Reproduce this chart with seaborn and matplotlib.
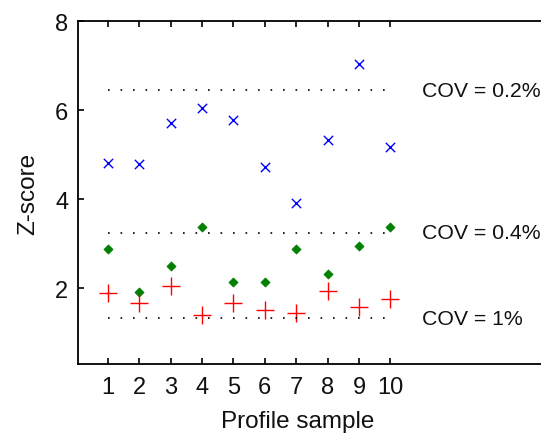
import matplotlib
matplotlib.use("Agg")
import matplotlib.pyplot as plt
import seaborn as sns
import pandas as pd

samples = [1, 2, 3, 4, 5, 6, 7, 8, 9, 10]
cov_02 = [4.82, 4.79, 5.72, 6.04, 5.78, 4.73, 3.91, 5.32, 7.03, 5.18]
cov_04 = [2.89, 1.92, 2.49, 3.38, 2.13, 2.13, 2.89, 2.31, 2.94, 3.38]
cov_1 = [1.89, 1.66, 2.04, 1.39, 1.66, 1.51, 1.45, 1.93, 1.59, 1.77]
thresholds = [6.45, 3.25, 1.33]
threshold_labels = ["COV = 0.2%", "COV = 0.4%", "COV = 1%"]
yticks = [2, 4, 6, 8]

sns.set_theme(style="ticks")
plt.rcParams["font.family"] = ["Liberation Sans", "DejaVu Sans"]

fig = plt.figure(figsize=(5.41, 4.35), dpi=100)
ax = fig.add_axes([78 / 541, 70 / 435, 485 / 541, 343 / 435])

df = pd.DataFrame({"sample": samples, "c02": cov_02, "c04": cov_04, "c1": cov_1})

sns.scatterplot(data=df, x="sample", y="c02", marker="x", color="#0000ff",
                s=45, linewidth=1.0, ax=ax)
sns.scatterplot(data=df, x="sample", y="c04", marker="D", color="#008000",
                edgecolor="#008000", s=22, linewidth=0.5, ax=ax)
sns.scatterplot(data=df, x="sample", y="c1", marker="+", color="#ff0000",
                s=170, linewidth=1.0, ax=ax)

for t, lab in zip(thresholds, threshold_labels):
    ax.hlines(t, samples[0], samples[-1], colors="black",
              linestyles=(0, (1, 6.5)), linewidth=1.2)
    ax.text(11, t, lab, ha="left", va="center", fontsize=15.3, color="#111111")

ax.set_xlim(0.05, 15.5)
ax.set_ylim(0.3, 8)
ax.set_xticks(samples)
ax.set_xticklabels([str(s) for s in samples])
ax.set_yticks(yticks)
ax.set_yticklabels([str(v) for v in yticks])

ax.tick_params(direction="in", length=4, width=1.2, colors="black",
               labelcolor="#111111", labelsize=17, top=True, right=False)
ax.tick_params(axis="x", pad=9)
ax.tick_params(axis="y", pad=7)
for sp in ax.spines.values():
    sp.set_linewidth(1.3)
    sp.set_color("black")
    sp.set_visible(True)

ax.set_xlabel("Profile sample", fontsize=17.5, color="#111111")
ax.set_ylabel("Z-score", fontsize=17.5, color="#111111")
ax.xaxis.set_label_coords((298 - 78) / 485, -(411 - 365) / 343)
ax.yaxis.set_label_coords(-(78 - 39) / 485, 0.5)

fig.savefig("out.png", dpi=100)
